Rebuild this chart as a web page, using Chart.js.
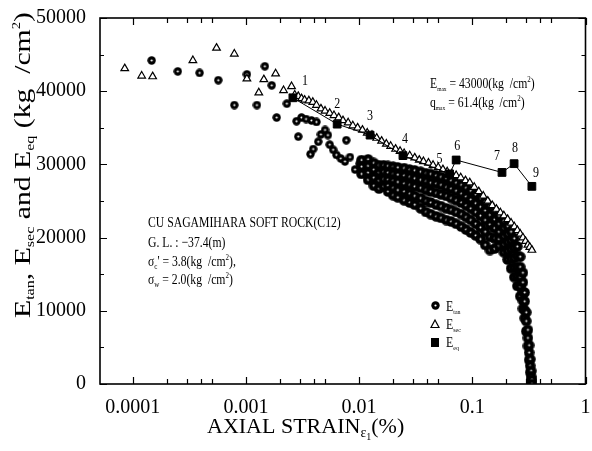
<!DOCTYPE html>
<html>
<head>
<meta charset="utf-8">
<script src="https://cdn.jsdelivr.net/npm/chart.js"></script>
<style>
  html, body { margin: 0; padding: 0; background: #fff; }
</style>
</head>
<body>
<canvas id="strainChart" width="592" height="451"></canvas>
<script>
// axis ticks
var xTickValues = [0.0001, 0.001, 0.01, 0.1, 1];
var xTickLabels = ["0.0001", "0.001", "0.01", "0.1", "1"];
var yTickValues = [0, 10000, 20000, 30000, 40000, 50000];

// E_tan : scattered circles at small strain
var tanStrain = [0.000147, 0.00025, 0.00039, 0.00057, 0.00079, 0.00102, 0.00125, 0.00147, 0.00169, 0.00187,
                 0.0023, 0.0028, 0.0029, 0.0031, 0.0034, 0.0038, 0.0042, 0.00372, 0.00393, 0.00436,
                 0.0046, 0.005, 0.0053, 0.0055, 0.0059, 0.0063, 0.0069, 0.0075, 0.0083, 0.0092, 0.0101, 0.0077];
var tanModulus = [44200, 42700, 42500, 41500, 38100, 42300, 38100, 43400, 40800, 36400,
                  38300, 35900, 33800, 36400, 36200, 36000, 35800, 31400, 32100, 33100,
                  34100, 34700, 34000, 32700, 32000, 31300, 30800, 30400, 31000, 29300, 30100, 33300];
// E_tan : dense band, each row = strain, then the moduli read at that strain
var tanBands = [
  [0.0105, 30600, 29700, 28700],
  [0.012, 30700, 29800, 28900, 27900],
  [0.0135, 30200, 29300, 28200, 27100],
  [0.015, 29900, 28900, 27800, 26700],
  [0.0165, 29900, 29000, 28000, 27000],
  [0.018, 29800, 28900, 27900, 27100, 26300],
  [0.02, 29700, 28700, 27800, 26800, 25800],
  [0.022, 29600, 28600, 27600, 26500, 25500],
  [0.025, 29500, 28500, 27400, 26300, 25100],
  [0.028, 29300, 28300, 27200, 26000, 24800],
  [0.031, 29200, 28100, 27000, 25700, 24500],
  [0.035, 29000, 27900, 26800, 25400, 24000],
  [0.039, 28800, 27700, 26500, 25000, 23500],
  [0.043, 28700, 27500, 26300, 24800, 23200],
  [0.048, 28500, 27400, 26100, 24500, 22900],
  [0.053, 28300, 27200, 25900, 24300, 22700],
  [0.059, 28100, 26900, 25700, 24000, 22400],
  [0.065, 27800, 26700, 25400, 23800, 22200],
  [0.072, 27500, 26400, 25100, 23500, 21900],
  [0.08, 27200, 26000, 24800, 23200, 21500],
  [0.088, 26800, 25600, 24400, 22800, 21100],
  [0.097, 26400, 25200, 24000, 22400, 20700],
  [0.107, 25900, 24700, 23500, 21900, 20300],
  [0.118, 25400, 24200, 23000, 21400, 19800],
  [0.13, 24900, 23700, 22400, 20800, 19000],
  [0.143, 24300, 23100, 21800, 20100, 18300],
  [0.157, 23700, 22500, 21300, 19900, 18500],
  [0.172, 23000, 21900, 20800, 19800, 18900],
  [0.19, 22300, 21300, 20200, 19100, 18000],
  [0.205, 21600, 20500, 19400, 18200, 17000],
  [0.22, 20800, 19600, 18400, 17100, 15800],
  [0.235, 19900, 18600, 17200, 15900, 14600],
  [0.25, 18800, 17500, 16000, 14700, 13400],
  [0.265, 17400, 16000, 14600, 13300, 12000],
  [0.28, 15200, 13900, 12600, 11400, 10300],
  [0.29, 12500, 11300, 10100, 9000],
  [0.3, 9800, 8600, 7200],
  [0.31, 7400, 6300, 5200],
  [0.318, 5300, 4300, 3300],
  [0.325, 3400, 2500, 1600],
  [0.331, 1800, 1000, 400],
  [0.336, 600, 0]
];

// E_sec : open triangles
var secStrain = [0.000085, 0.00012, 0.00015, 0.00034, 0.00055, 0.00079, 0.00102, 0.0013, 0.00144, 0.00183,
                 0.00215, 0.00253, 0.0027, 0.0029, 0.0031, 0.0033, 0.0036, 0.0039, 0.0042, 0.0046,
                 0.005, 0.0055, 0.006, 0.0066, 0.0072, 0.008, 0.0088, 0.0097, 0.0107, 0.0118,
                 0.013, 0.0143, 0.0158, 0.0174, 0.019, 0.021, 0.023, 0.025, 0.028, 0.031,
                 0.034, 0.037, 0.041, 0.045, 0.05, 0.055, 0.06, 0.066, 0.072, 0.079,
                 0.087, 0.095, 0.104, 0.114, 0.125, 0.137, 0.15, 0.163, 0.177, 0.19,
                 0.205, 0.22, 0.235, 0.25, 0.265, 0.28, 0.295, 0.31, 0.322, 0.336];
var secModulus = [43100, 42100, 42000, 44200, 45900, 45100, 41700, 39800, 41600, 42400,
                  40100, 40650, 39500, 39300, 39000, 38800, 38700, 38500, 38100, 37600,
                  37300, 37000, 36700, 36400, 36000, 35700, 35300, 35000, 34700, 34300,
                  34000, 33600, 33200, 32800, 32500, 32100, 31800, 31500, 31200, 30900,
                  30600, 30400, 30200, 29900, 29600, 29300, 29000, 28700, 28500, 28200,
                  27800, 27500, 26900, 26300, 25700, 25000, 24400, 23900, 23400, 23000,
                  22500, 22000, 21500, 21000, 20500, 20000, 19500, 19000, 18700, 18300];

// E_eq : filled squares joined by a line, numbered 1..9
var eqStrain = [0.0026, 0.0064, 0.0125, 0.0244, 0.063, 0.072, 0.183, 0.234, 0.336];
var eqModulus = [39100, 35500, 34000, 31200, 28700, 30600, 28900, 30100, 27000];
var eqLabels = ["1", "2", "3", "4", "5", "6", "7", "8", "9"];

var SERIF = "'Liberation Serif', 'DejaVu Serif', serif";

// marker images
function circleMark(d, r, dot) {
  var c = document.createElement('canvas');
  c.width = d; c.height = d;
  var g = c.getContext('2d');
  g.fillStyle = '#000';
  g.beginPath(); g.arc(d / 2, d / 2, r, 0, Math.PI * 2); g.fill();
  g.fillStyle = '#fff';
  g.beginPath(); g.arc(d / 2, d / 2, dot, 0, Math.PI * 2); g.fill();
  return c;
}
var tanMark = circleMark(9, 4.2, 1.1);
var tanMarkBig = circleMark(11, 5.3, 1.0);

var tanPoints = [];
for (var i = 0; i < tanStrain.length; i++) tanPoints.push({x: tanStrain[i], y: tanModulus[i]});
tanBands.forEach(function (row) {
  for (var j = 1; j < row.length; j++) tanPoints.push({x: row[0], y: row[j]});
});
var secPoints = secStrain.map(function (s, i) { return {x: s, y: secModulus[i]}; });
var eqPoints = eqStrain.map(function (s, i) { return {x: s, y: eqModulus[i]}; });

// draw a run of text pieces [text, size, dy]
function richWidth(ctx, parts) {
  var w = 0;
  parts.forEach(function (p) { ctx.font = p[1] + 'px ' + SERIF; w += ctx.measureText(p[0]).width; });
  return w;
}
function drawRich(ctx, parts, x, y, sx) {
  ctx.save();
  ctx.translate(x, y);
  ctx.scale(sx || 1, 1);
  ctx.textBaseline = 'alphabetic';
  ctx.textAlign = 'left';
  ctx.fillStyle = '#000';
  var cx = 0;
  parts.forEach(function (p) {
    ctx.font = p[1] + 'px ' + SERIF;
    ctx.fillText(p[0], cx, p[2] || 0);
    cx += ctx.measureText(p[0]).width;
  });
  ctx.restore();
}

var decorations = {
  id: 'decorations',
  afterDraw: function (chart) {
    var ctx = chart.ctx, a = chart.chartArea;
    var xs = chart.scales.x, ys = chart.scales.y;
    ctx.save();
    // frame
    ctx.strokeStyle = '#000';
    ctx.lineWidth = 1.6;
    ctx.strokeRect(a.left, a.top, a.right - a.left, a.bottom - a.top);
    // inward ticks
    ctx.lineWidth = 1.2;
    ctx.beginPath();
    for (var k = -5; k <= 0; k++) {
      [1, 2, 3, 4, 5].forEach(function (m) {
        var v = m * Math.pow(10, k);
        if (v < xs.min || v > xs.max * 1.0001) return;
        var px = Math.round(xs.getPixelForValue(v)) + 0.5, len = m === 1 ? 7 : 5;
        ctx.moveTo(px, a.bottom); ctx.lineTo(px, a.bottom - len);
        ctx.moveTo(px, a.top); ctx.lineTo(px, a.top + len);
      });
    }
    for (var v = 0; v <= 50000; v += 5000) {
      var py = Math.round(ys.getPixelForValue(v)) + 0.5, len = v % 10000 === 0 ? 7 : 4;
      ctx.moveTo(a.left, py); ctx.lineTo(a.left + len, py);
      ctx.moveTo(a.right, py); ctx.lineTo(a.right - len, py);
    }
    ctx.stroke();

    // axis titles
    drawRich(ctx, [["AXIAL STRAIN", 22], ["\u03b5", 14, 4], ["1", 10, 7], ["(%)", 22]], 207, 433);
    var yParts = [["E", 24], ["tan", 13, 4], [", ", 24], ["E", 24], ["sec", 13, 4], [" and ", 24],
                  ["E", 24], ["eq", 13, 4], [" (kg  /cm", 24], ["2", 12, -10], [")", 24]];
    var yw = richWidth(ctx, yParts);
    ctx.save();
    ctx.translate(30, 318);
    ctx.rotate(-Math.PI / 2);
    drawRich(ctx, yParts, 0, 0, 306 / yw);
    ctx.restore();

    // test description
    var sq = 0.78;
    drawRich(ctx, [["CU SAGAMIHARA SOFT ROCK(C12)", 15]], 148, 227, sq);
    drawRich(ctx, [["G. L. : \u221237.4(m)", 15]], 148, 247, sq);
    drawRich(ctx, [["\u03c3", 15], ["c", 9, 3], ["' = 3.8(kg  /cm", 15], ["2", 9, -6], ["),", 15]], 148, 266, sq);
    drawRich(ctx, [["\u03c3", 15], ["w", 9, 3], [" = 2.0(kg  /cm", 15], ["2", 9, -6], [")", 15]], 148, 284, sq);
    drawRich(ctx, [["E", 15], ["max", 7, 3], [" = 43000(kg  /cm", 15], ["2", 9, -6], [")", 15]], 430, 88, sq);
    drawRich(ctx, [["q", 15], ["max", 7, 3], [" = 61.4(kg  /cm", 15], ["2", 9, -6], [")", 15]], 430, 107, sq);

    // numbers on the E_eq points
    var offs = [[12, -13], [0, -16], [0, -15], [2, -13], [-10, -11], [1, -10], [-5, -12], [1, -12], [4, -9]];
    ctx.font = '15px ' + SERIF;
    ctx.textAlign = 'center';
    ctx.fillStyle = '#000';
    var meta = chart.getDatasetMeta(0);
    meta.data.forEach(function (el, i) {
      ctx.save();
      ctx.translate(el.x + offs[i][0], el.y + offs[i][1]);
      ctx.scale(0.8, 1);
      ctx.fillText(eqLabels[i], 0, 0);
      ctx.restore();
    });

    // legend
    ctx.drawImage(tanMark, 431, 301);
    ctx.lineWidth = 1.2;
    ctx.beginPath();
    ctx.moveTo(435, 320); ctx.lineTo(439, 327.5); ctx.lineTo(431, 327.5); ctx.closePath();
    ctx.fillStyle = '#fff'; ctx.fill(); ctx.stroke();
    ctx.fillStyle = '#000';
    ctx.fillRect(431, 338, 8, 9);
    drawRich(ctx, [["E", 14], ["tan", 7, 3]], 446, 311, 0.85);
    drawRich(ctx, [["E", 14], ["sec", 7, 3]], 446, 329, 0.85);
    drawRich(ctx, [["E", 14], ["eq", 7, 3]], 446, 347, 0.85);
    ctx.restore();
  }
};

new Chart(document.getElementById('strainChart'), {
  type: 'scatter',
  data: {
    datasets: [{
      label: 'Eeq',
      data: eqPoints,
      showLine: true,
      borderColor: '#000',
      borderWidth: 1,
      pointStyle: 'rect',
      pointRadius: 5.5,
      pointBackgroundColor: '#000',
      pointBorderColor: '#000',
      order: 0
    }, {
      label: 'Esec',
      data: secPoints,
      pointStyle: 'triangle',
      pointRadius: 4.4,
      pointBackgroundColor: '#fff',
      pointBorderColor: '#000',
      pointBorderWidth: 1.2,
      order: 1
    }, {
      label: 'Etan',
      data: tanPoints,
      // the dense band is printed with heavier blobs than the early scatter
      pointStyle: function (c) { return c.dataIndex < tanStrain.length ? tanMark : tanMarkBig; },
      order: 2
    }]
  },
  plugins: [decorations],
  options: {
    responsive: false,
    animation: false,
    layout: { padding: { left: 0, right: 3, top: 15, bottom: 0 } },
    plugins: { legend: { display: false }, tooltip: { enabled: false } },
    scales: {
      x: {
        type: 'logarithmic',
        min: 0.0000514,
        max: 1,
        grid: { display: false },
        border: { display: false },
        afterBuildTicks: function (scale) {
          scale.ticks = xTickValues.map(function (v) { return {value: v}; });
        },
        ticks: {
          autoSkip: false,
          maxRotation: 0,
          padding: 4,
          color: '#000',
          font: { family: SERIF, size: 20 },
          callback: function (v) { return xTickLabels[xTickValues.indexOf(v)]; }
        },
        afterFit: function (scale) { scale.height = 67; scale.paddingRight = 3; scale.paddingLeft = 0; }
      },
      y: {
        min: 0,
        max: 50000,
        grid: { display: false },
        border: { display: false },
        afterBuildTicks: function (scale) {
          scale.ticks = yTickValues.map(function (v) { return {value: v}; });
        },
        ticks: {
          padding: 6,
          color: '#000',
          font: { family: SERIF, size: 20 },
          callback: function (v) { return String(v); }
        },
        afterFit: function (scale) { scale.width = 100; }
      }
    }
  }
});
</script>
</body>
</html>
